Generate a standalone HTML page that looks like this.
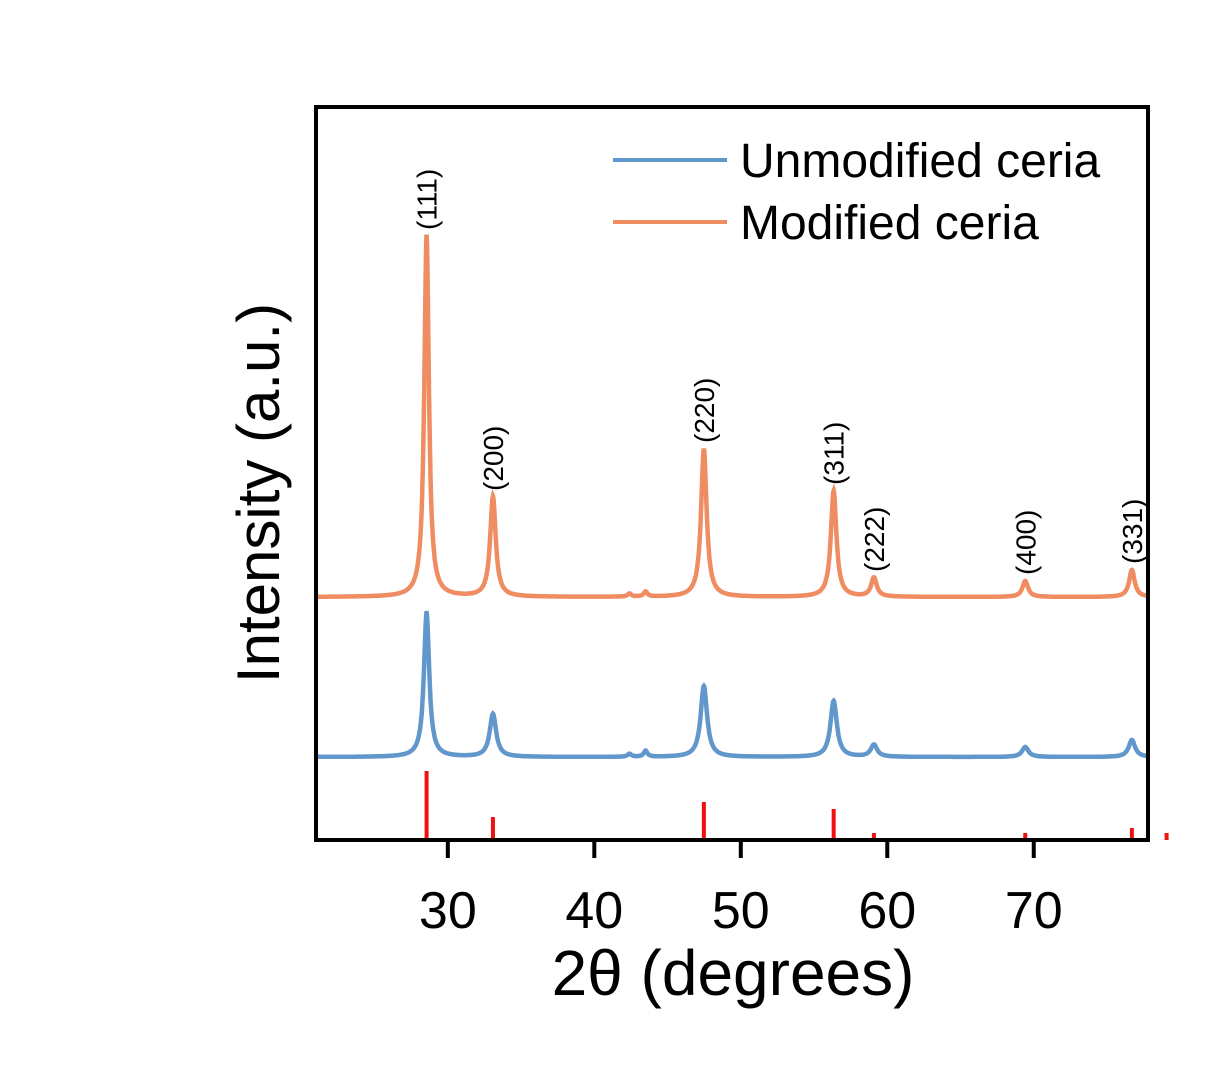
<!DOCTYPE html>
<html><head><meta charset="utf-8"><style>body{margin:0;background:#fff}svg{display:block}text{font-family:"Liberation Sans",sans-serif}</style></head>
<body>
<svg id="chart" width="1225" height="1065" xmlns="http://www.w3.org/2000/svg"></svg>
<script>
const peakPos=[28.55,33.08,47.48,56.34,59.09,69.42,76.7];
const peakLabels=["(111)","(200)","(220)","(311)","(222)","(400)","(331)"];
const modHeights=[361,100,148,106,19,16,27];
const unmodHeights=[144,43,71,56,12,10,17];
const minorPos=[42.4,43.5];
const modMinor=[3,5];
const unmodMinor=[3,6];
const refPos=[28.55,33.08,47.48,56.34,59.09,69.42,76.7,79.07];
const refHeights=[69,23,38,31,7,7,12,7];
const xTicks=[30,40,50,60,70];
const modOffset=243, unmodOffset=83;
const NS="http://www.w3.org/2000/svg";
const svg=document.getElementById('chart');
const L=316,R=1148,T=107,B=840,x0=21,x1=77.8;
const X=v=>L+(v-x0)/(x1-x0)*(R-L);
const Y=v=>B-v;
function el(t,a,p){const e=document.createElementNS(NS,t);for(const k in a)e.setAttribute(k,a[k]);(p||svg).appendChild(e);return e;}
function curve(hs,mh,off,w){let d="";for(let x=x0;x<=x1;x+=0.02){let y=off;hs.forEach((h,i)=>{const g=w*(i==0?1:1.2);y+=h/(1+((x-peakPos[i])/g)**2);});mh.forEach((h,i)=>{y+=h/(1+((x-minorPos[i])/0.15)**2);});d+=(d?"L":"M")+X(x).toFixed(1)+","+Y(y).toFixed(1);}return d;}
const u=el('path',{d:curve(unmodHeights,unmodMinor,unmodOffset,0.22),fill:'none',stroke:'#6297cc','stroke-width':4.5});

const m=el('path',{d:curve(modHeights,modMinor,modOffset,0.19),fill:'none',stroke:'#ef8c61','stroke-width':4.5});

refPos.forEach((p,i)=>{const r=el('line',{x1:X(p),x2:X(p),y1:B,y2:Y(refHeights[i]),stroke:'#f01010','stroke-width':4});
});
peakPos.forEach((p,i)=>{const py=Y(modHeights[i]+modOffset)-6;const t=el('text',{x:0,y:0,'font-size':28,transform:`translate(${X(p)+10},${py}) rotate(-90)`});t.textContent=peakLabels[i];
});
const f=el('rect',{x:L,y:T,width:R-L,height:B-T,fill:'none',stroke:'#000','stroke-width':4});

xTicks.forEach(v=>{const tk=el('line',{x1:X(v),x2:X(v),y1:B,y2:B+18,stroke:'#000','stroke-width':4});

const t=el('text',{x:X(v),y:928,'font-size':52,'text-anchor':'middle'});t.textContent=v;
});
const xt=el('text',{x:733,y:995,'font-size':64,'text-anchor':'middle'});xt.textContent="2θ (degrees)";

const yt=el('text',{x:0,y:0,'font-size':60,'text-anchor':'middle',transform:'translate(279,493) rotate(-90)'});yt.textContent="Intensity (a.u.)";

[["Unmodified ceria","#6297cc",160],["Modified ceria","#ef8c61",222]].forEach(([n,c,y])=>{
const g=el('g',{});
el('line',{x1:613,x2:727,y1:y,y2:y,stroke:c,'stroke-width':4},g);
const t=el('text',{x:740,y:y+17,'font-size':48},g);t.textContent=n;});
</script>
</body></html>
